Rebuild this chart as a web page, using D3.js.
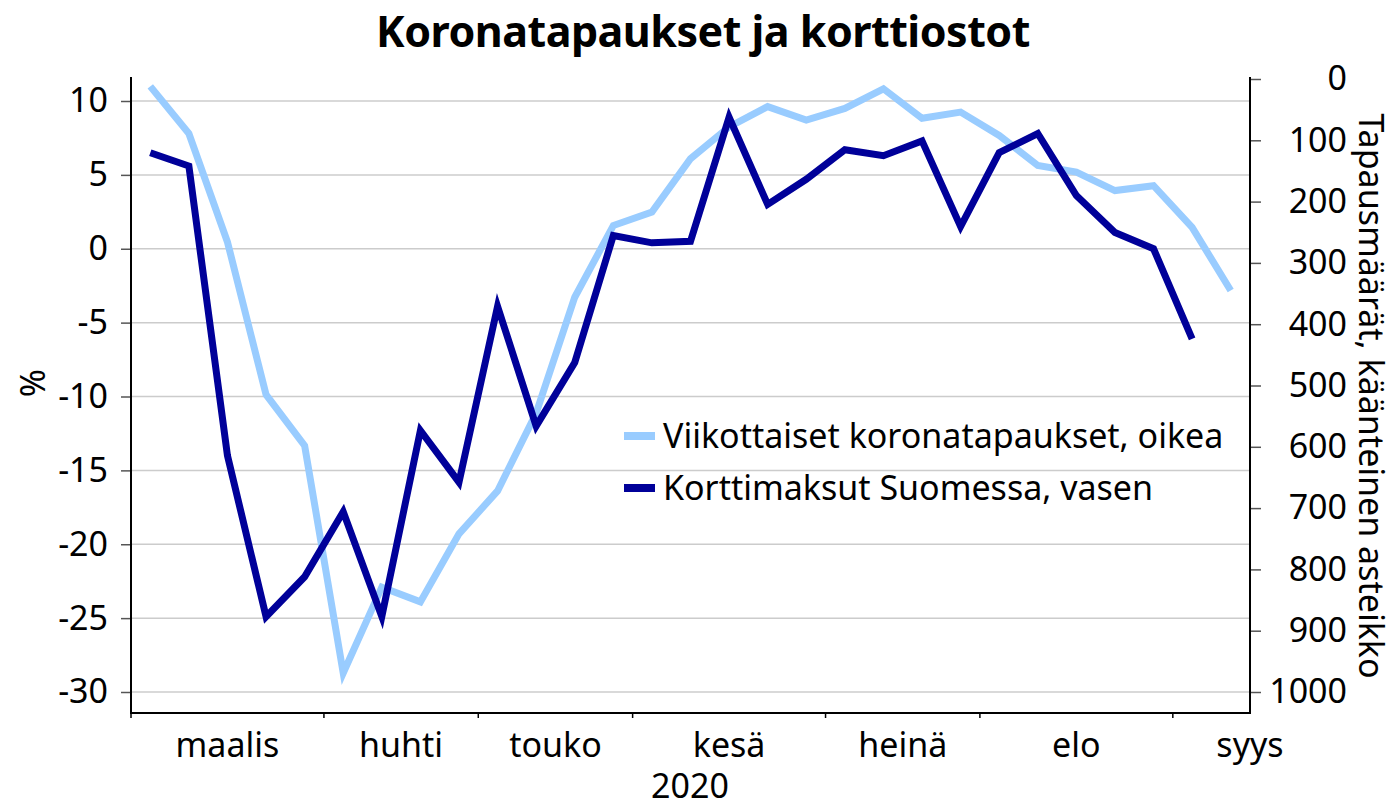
<!DOCTYPE html>
<html>
<head>
<meta charset="utf-8">
<script src="https://cdn.jsdelivr.net/npm/d3@7"></script>
<style>
  body { margin: 0; background: #fff; }
  svg text { font-family: "Noto Sans", "Open Sans", sans-serif; fill: #000; }
</style>
</head>
<body>
<div id="vis"></div>
<script>

// weekly values, first week of March 2020 onwards
var cardPayments = [6.5, 5.6, -14.0, -24.9, -22.2, -17.8, -24.9, -12.3, -15.8, -3.9,
  -12.0, -7.7, 0.9, 0.4, 0.5, 8.9, 3.0, 4.7, 6.7, 6.3,
  7.3, 1.5, 6.5, 7.8, 3.6, 1.1, 0.0, -6.1];
var weeklyCases = [12, 89, 266, 515, 598, 969, 829, 853, 742, 672,
  545, 356, 239, 217, 130, 78, 45, 67, 48, 16,
  64, 54, 92, 141, 152, 182, 174, 242, 345];

var months = ['maalis', 'huhti', 'touko', 'kesä', 'heinä', 'elo', 'syys'];
var weeksInMonth = [5, 4, 4, 5, 4, 5, 4];
var leftTicks = [-30, -25, -20, -15, -10, -5, 0, 5, 10];
var rightTicks = [0, 100, 200, 300, 400, 500, 600, 700, 800, 900, 1000];

var seriesNames = ['Viikottaiset koronatapaukset, oikea', 'Korttimaksut Suomessa, vasen'];
var seriesColors = ['#99ccff', '#000099'];

var width = 1395, height = 808;
var plotLeft = 131, plotRight = 1250, plotTop = 77, plotBottom = 713;
var nWeeks = 29;
var fontSize = '34px';

var svg = d3.select('#vis').append('svg')
  .attr('width', width)
  .attr('height', height);

var x = d3.scaleLinear().domain([0, nWeeks]).range([plotLeft, plotRight]);
var yLeft = d3.scaleLinear().domain([-30, 10]).range([692, 101]);
var yRight = d3.scaleLinear().domain([0, 1000]).range([79, 692]);

// title
svg.append('text')
  .attr('x', 703).attr('y', 47)
  .attr('text-anchor', 'middle')
  .style('font-size', '43px')
  .style('font-weight', 700)
  .style('letter-spacing', '-0.5px')
  .text('Koronatapaukset ja korttiostot');

// gridlines
svg.append('g').selectAll('line')
  .data(leftTicks)
  .enter().append('line')
  .attr('x1', plotLeft).attr('x2', plotRight)
  .attr('y1', function (d) { return yLeft(d); })
  .attr('y2', function (d) { return yLeft(d); })
  .attr('stroke', '#cccccc')
  .attr('stroke-width', 1.5);

// left axis
var gLeft = svg.append('g')
  .attr('transform', 'translate(' + plotLeft + ',0)')
  .call(d3.axisLeft(yLeft).tickValues(leftTicks).tickSize(10).tickPadding(13).tickFormat(function (d) { return d; }));
gLeft.select('.domain').remove();
gLeft.selectAll('.tick line').attr('stroke', '#555').attr('stroke-width', 1.5);
gLeft.selectAll('.tick text').style('font-size', fontSize).attr('font-family', null);

// right axis
var gRight = svg.append('g')
  .attr('transform', 'translate(' + plotRight + ',0)')
  .call(d3.axisRight(yRight).tickValues(rightTicks).tickSize(11).tickFormat(function (d) { return d; }));
gRight.select('.domain').remove();
gRight.selectAll('.tick line').attr('stroke', '#555').attr('stroke-width', 1.5);
gRight.selectAll('.tick text')
  .attr('x', 97)
  .attr('text-anchor', 'end')
  .attr('font-family', null)
  .style('font-size', fontSize);

// axis frame
svg.append('line').attr('x1', plotLeft).attr('x2', plotLeft).attr('y1', plotTop).attr('y2', plotBottom)
  .attr('stroke', '#000').attr('stroke-width', 2);
svg.append('line').attr('x1', plotRight).attr('x2', plotRight).attr('y1', plotTop).attr('y2', plotBottom)
  .attr('stroke', '#000').attr('stroke-width', 2);
svg.append('line').attr('x1', plotLeft - 1).attr('x2', plotRight + 1).attr('y1', plotBottom).attr('y2', plotBottom)
  .attr('stroke', '#000').attr('stroke-width', 2);

// month ticks and labels
var starts = [];
var acc = 0;
weeksInMonth.forEach(function (w) { starts.push(acc); acc += w; });

svg.append('g').selectAll('line')
  .data(starts.filter(function (s) { return s < nWeeks; }))
  .enter().append('line')
  .attr('x1', function (d) { return x(d); })
  .attr('x2', function (d) { return x(d); })
  .attr('y1', plotBottom).attr('y2', plotBottom + 5)
  .attr('stroke', '#000').attr('stroke-width', 1.5);

svg.append('g').selectAll('text')
  .data(months)
  .enter().append('text')
  .attr('x', function (d, i) { return x(starts[i] + weeksInMonth[i] / 2); })
  .attr('y', 757)
  .attr('text-anchor', 'middle')
  .style('font-size', fontSize)
  .text(function (d) { return d; });

svg.append('text')
  .attr('x', 690).attr('y', 798)
  .attr('text-anchor', 'middle')
  .style('font-size', fontSize)
  .text('2020');

// axis titles
svg.append('text')
  .attr('transform', 'translate(45,383) rotate(-90)')
  .attr('text-anchor', 'middle')
  .style('font-size', fontSize)
  .text('%');

svg.append('text')
  .attr('transform', 'translate(1359,396) rotate(90)')
  .attr('text-anchor', 'middle')
  .style('font-size', fontSize)
  .text('Tapausmäärät, käänteinen asteikko');

// lines
var lineCases = d3.line()
  .x(function (d, i) { return x(i + 0.5); })
  .y(function (d) { return yRight(d); });
var lineCard = d3.line()
  .x(function (d, i) { return x(i + 0.5); })
  .y(function (d) { return yLeft(d); });

svg.append('path')
  .datum(weeklyCases)
  .attr('d', lineCases)
  .attr('fill', 'none')
  .attr('stroke', seriesColors[0])
  .attr('stroke-width', 7);

svg.append('path')
  .datum(cardPayments)
  .attr('d', lineCard)
  .attr('fill', 'none')
  .attr('stroke', seriesColors[1])
  .attr('stroke-width', 7);

// legend
var legend = svg.append('g').attr('transform', 'translate(624,436)');
var items = legend.selectAll('g')
  .data(seriesNames)
  .enter().append('g')
  .attr('transform', function (d, i) { return 'translate(0,' + (i * 52) + ')'; });
items.append('rect')
  .attr('x', 0).attr('y', -4)
  .attr('width', 31).attr('height', 8)
  .attr('fill', function (d, i) { return seriesColors[i]; });
items.append('text')
  .attr('x', 39).attr('y', 12)
  .style('font-size', fontSize)
  .text(function (d) { return d; });

</script>
</body>
</html>
